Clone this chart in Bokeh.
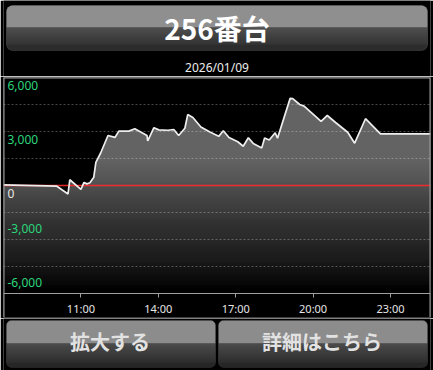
import numpy as np
from bokeh.plotting import figure
from bokeh.models import Range1d, FixedTicker, BoxAnnotation, Label, ColumnDataSource
from bokeh.layouts import column
from bokeh.embed import file_html
from bokeh.resources import INLINE
from bokeh.core.properties import value

# ---------------- data ----------------
title_text = "256番台"
date_text = "2026/01/09"
button_texts = ["拡大する", "詳細はこちら"]

hours = [8.00, 10.07, 10.50, 10.57, 11.00, 11.12, 11.23, 11.35, 11.50, 11.58,
         11.77, 12.05, 12.32, 12.47, 12.86, 13.09, 13.56, 13.59, 13.83, 14.02,
         14.37, 14.60, 14.79, 15.03, 15.14, 15.34, 15.65, 16.00, 16.34, 16.52,
         16.74, 17.08, 17.29, 17.49, 17.68, 18.01, 18.12, 18.30, 18.53, 18.62,
         19.11, 19.21, 19.48, 19.65, 20.31, 20.55, 20.87, 21.34, 21.61, 22.03,
         22.61, 24.55]
diff = [40, -40, -470, 320, -220, 170, 90, 150, 460, 1290,
        1820, 2780, 2670, 3020, 3020, 3150, 2780, 2480, 3210, 3090,
        3070, 3110, 2780, 3180, 3940, 3780, 3250, 2970, 2730, 3040,
        2670, 2430, 2180, 2650, 2340, 2090, 2640, 2530, 2930, 2630,
        4840, 4830, 4500, 4410, 3560, 3890, 3500, 2960, 2350, 3710,
        2870, 2870]

tick_hours = [11, 14, 17, 20, 23]
tick_labels = ["11:00", "14:00", "17:00", "20:00", "23:00"]

ylabel_values = [6000, 3000, 0, -3000, -6000]
ylabel_texts = ["6,000", "3,000", "0", "-3,000", "-6,000"]
grid_values = [4500, 3000, 1500, -1500, -3000, -4500]
zero_value = [0]

# ---------------- style ----------------
W = 433
FONT = "Noto Sans"
CJK = "Noto Sans CJK JP"
GREEN = "#2bd67b"
BORDER = "#a0a0a0"


def hex2rgb(h):
    h = h.lstrip("#")
    return np.array([int(h[i:i + 2], 16) for i in (0, 2, 4)], dtype=float)


def rgb2hex(c):
    c = np.clip(np.round(c), 0, 255).astype(int)
    return "#%02x%02x%02x" % tuple(c)


def pixel_fig(height, y_top, y_bottom):
    f = figure(width=W, height=height, x_range=Range1d(0, W),
               y_range=Range1d(y_bottom, y_top), output_backend="svg",
               toolbar_location=None, min_border=0,
               background_fill_color="black", border_fill_color="black",
               outline_line_color=None, x_axis_type=None, y_axis_type=None)
    return f


def button(f, left, right, top, bottom, split, r, top_col, g0, g1, edge):
    f.add_layout(BoxAnnotation(left=left, right=right, top=top, bottom=bottom,
                               fill_color=g1, fill_alpha=1, line_color=None,
                               border_radius=r))
    f.add_layout(BoxAnnotation(left=left, right=right, top=top, bottom=split,
                               fill_color=top_col, fill_alpha=1, line_color=None,
                               border_radius=(r, r, 0, 0)))
    c0, c1 = hex2rgb(g0), hex2rgb(g1)
    n = int(bottom - split)
    for i in range(int(bottom - r - split)):
        t = i / max(n - 1, 1)
        f.add_layout(BoxAnnotation(left=left, right=right, top=split + i,
                                   bottom=split + i + 1,
                                   fill_color=rgb2hex(c0 + (c1 - c0) * t),
                                   fill_alpha=1, line_color=None))
    f.add_layout(BoxAnnotation(left=left, right=right, top=top, bottom=bottom,
                               fill_alpha=0, line_color=edge, line_width=1,
                               border_radius=r))


# ---------------- top (title) ----------------
top = pixel_fig(76, 0, 76)
button(top, 3, 430, 5, 50, 27, 6, "#8f8f8f", "#5a5a5a", "#2c2c2c", "#6a6a6a")
top.add_layout(Label(x=216.5, y=27, text=title_text, text_align="center",
                     text_baseline="middle", text_font=CJK,
                     text_font_size="28px", text_font_style="bold",
                     text_color="white"))
top.add_layout(Label(x=216.5, y=67, text=date_text, text_align="center",
                     text_baseline="middle", text_font=FONT,
                     text_font_size="12px", text_color="#ececec"))

# ---------------- chart ----------------
X0, X1 = 8.0, 24.55
p = figure(width=W, height=242, x_range=Range1d(X0, X1),
           y_range=Range1d(-7333.33, 6000), output_backend="svg",
           toolbar_location=None, min_border_left=3, min_border_right=3,
           min_border_top=1, min_border_bottom=1,
           background_fill_color="black", border_fill_color="black",
           outline_line_color=None, y_axis_location=None)
p.grid.visible = False

# area
p.varea(x=hours, y1=-6000, y2=diff, fill_color="#b4b4b4", fill_alpha=0.55)

# vertical darkening gradient: stacked quads all starting at the plot bottom
edges = np.linspace(-6000, 1500, 46)
mids = (edges[:-1] + edges[1:]) / 2
target = 1 - 0.85 * (1500 - mids) / 7500          # transmittance per band
nxt = np.append(target[1:], 1.0)
layer_alpha = 1 - target / nxt
p.quad(left=X0, right=X1, bottom=-6000, top=edges[1:],
       fill_color="black", fill_alpha=layer_alpha, line_color=None)

# zero line
p.hspan(y=zero_value, line_color="#ff2a2a", line_alpha=0.9, line_width=1.4)

# dashed grid lines
p.hspan(y=grid_values, line_color="white", line_alpha=0.28,
        line_dash="2 2", line_width=1)

# series line
p.line(hours, diff, line_color="#eeeeee", line_width=1.7)

# frame borders (left/right/top)
p.vspan(x=[X0, X1], line_color=BORDER, line_width=2)
p.hspan(y=[6000], line_color=BORDER, line_width=2)

# y labels inside the plot
ysrc = ColumnDataSource(dict(
    x=[X0] * len(ylabel_values), y=ylabel_values, text=ylabel_texts,
    yoff=[8 if v >= 0 else -11 for v in ylabel_values],
    color=[GREEN if v != 0 else "#e8e8e8" for v in ylabel_values]))
p.text(x="x", y="y", text="text", source=ysrc, x_offset=4, y_offset="yoff",
       text_color="color", text_font=value(FONT), text_font_size="12px",
       text_baseline="middle", text_align="left")

# x axis at bottom of plotting area
ax = p.xaxis[0]
ax.ticker = FixedTicker(ticks=tick_hours)
ax.major_label_overrides = {h: s for h, s in zip(tick_hours, tick_labels)}
ax.fixed_location = -6000
ax.axis_line_color = BORDER
ax.major_tick_line_color = BORDER
ax.major_tick_out = 4
ax.major_tick_in = 0
ax.minor_tick_line_color = None
ax.major_label_text_color = "#e6e6e6"
ax.major_label_text_font = FONT
ax.major_label_text_font_size = "11px"
ax.major_label_standoff = 3

# ---------------- bottom buttons ----------------
bot = pixel_fig(52, 318, 370)
button(bot, 3, 215, 320, 367, 343, 5, "#8c8c8c", "#585858", "#262626", "#4a4a4a")
button(bot, 218, 430, 320, 367, 343, 5, "#8c8c8c", "#585858", "#262626", "#4a4a4a")
for cx, t in zip([108, 323], button_texts):
    bot.add_layout(Label(x=cx, y=341, text=t, text_align="center",
                         text_baseline="middle", text_font=CJK,
                         text_font_size="20px", text_font_style="bold",
                         text_color="#e2e2e2"))

layout = column(top, p, bot, spacing=0)
open("out.html", "w").write(file_html(layout, INLINE))
